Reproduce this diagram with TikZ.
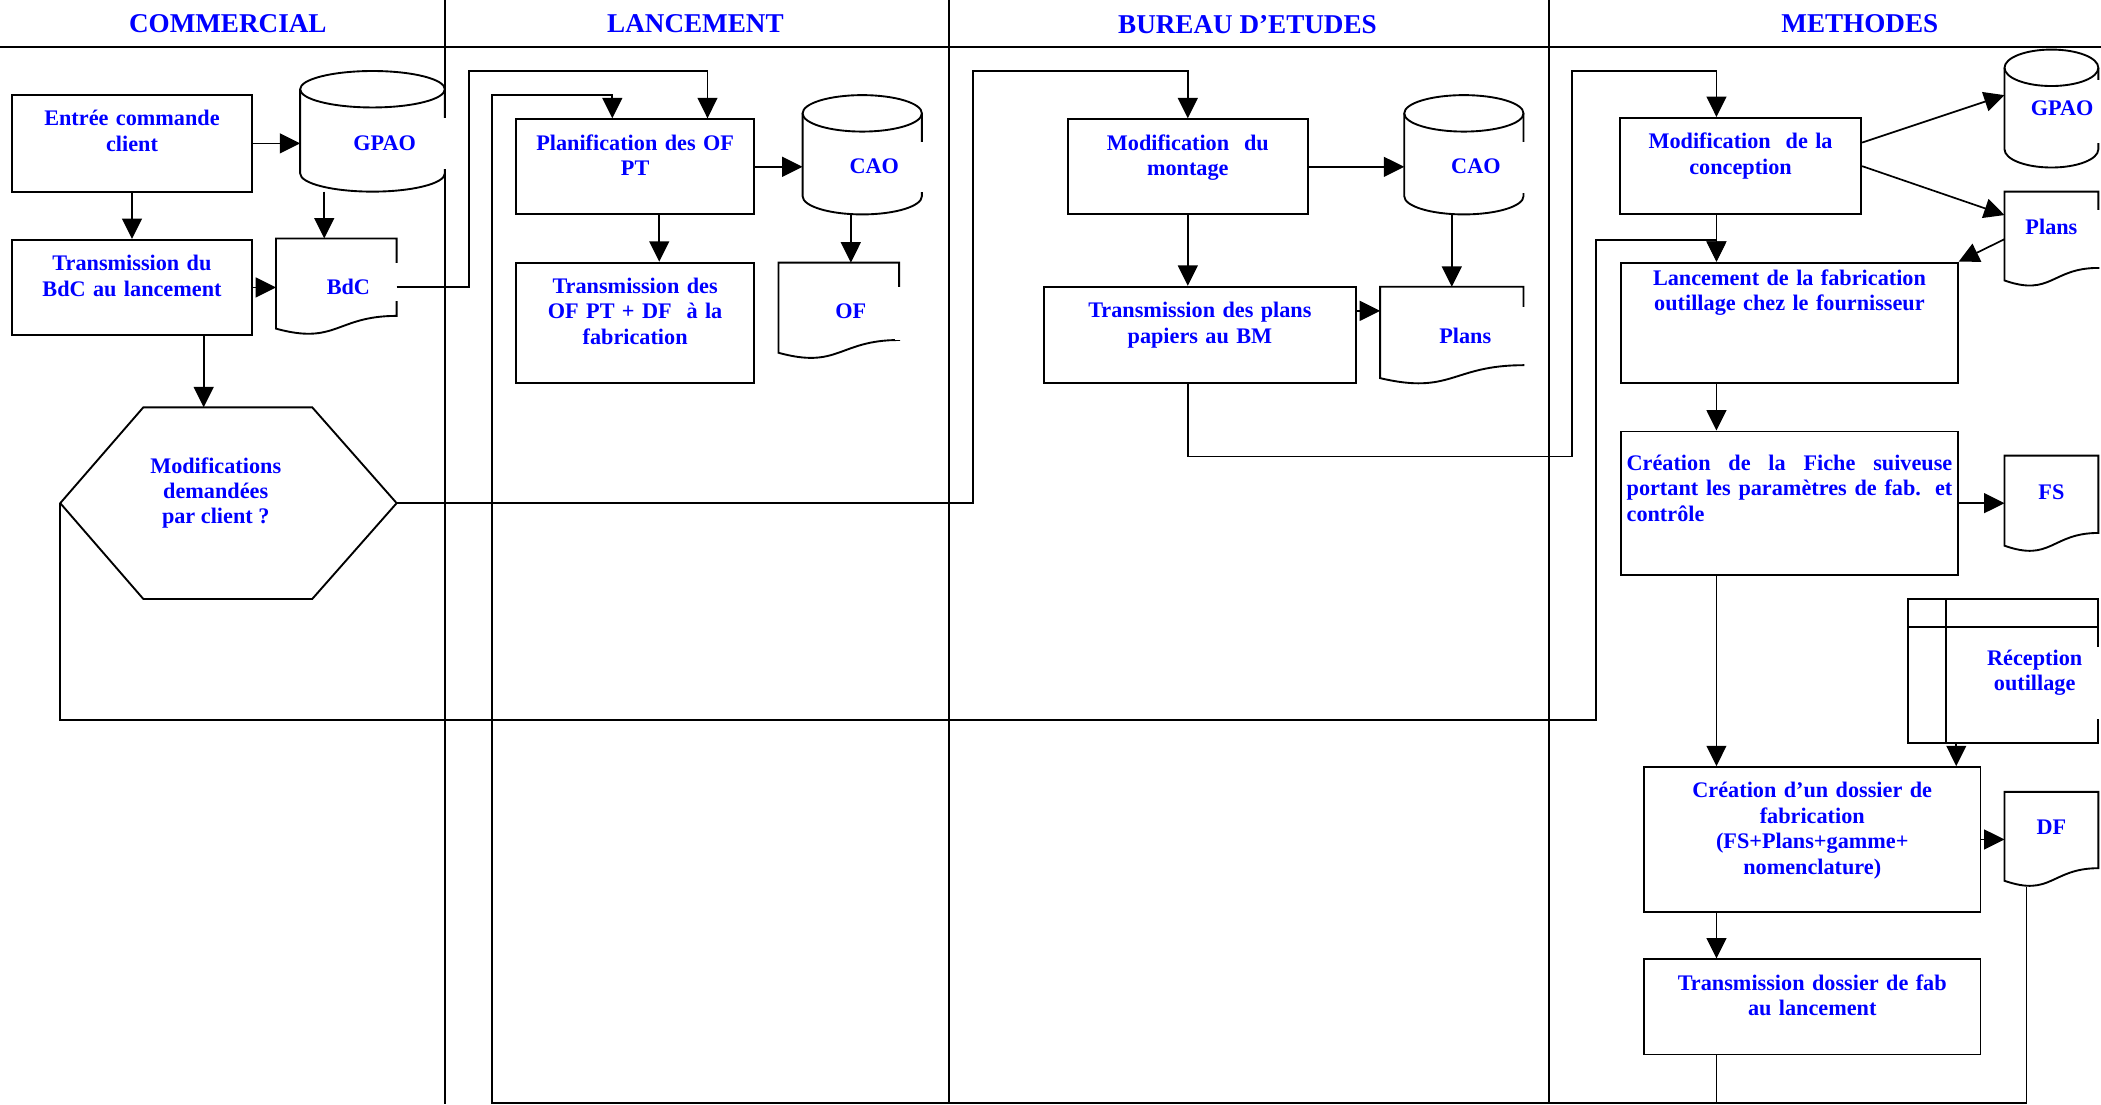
\documentclass[tikz,border=0pt]{standalone}
\usepackage{fontspec}
\setmainfont{Liberation Serif}
\usetikzlibrary{arrows.meta,calc}

\begin{document}
\begin{tikzpicture}[
    x=0.025cm, y=-0.025cm,
    font=\fontsize{11.8}{13.5}\selectfont\bfseries,
    >={Triangle[length=0.38cm, width=0.37cm]},
]

\tikzset{
    lane_title/.style = {font=\fontsize{14.4}{17}\selectfont\bfseries, text=blue, inner sep=0pt},
    box_node/.style 2 args = {rectangle, draw=black, line width=1pt, text=blue, inner xsep=0.1cm, inner ysep=0pt,
                              minimum width=#1, text width=#1-0.2cm, text height=0.575cm, text depth=#2-0.575cm, align=center},
    db_node/.style 2 args = {rectangle, outer sep=0pt, inner sep=0pt, minimum width=#1, minimum height=#2,
                             text=blue, text height=0.7cm, text depth=0cm},
    doc_node/.style 2 args = {rectangle, outer sep=0pt, inner sep=0pt, minimum width=#1, minimum height=#2, text=blue},
    doc_up/.style = {text height=0.275cm, text depth=0.45cm},
    storage_node/.style 2 args = {rectangle, draw=black, line width=1pt, outer sep=0pt, minimum width=#1, minimum height=#2},
    plain_text/.style = {text=blue, inner sep=0pt, align=center},
    shape_line/.style = {draw=black, line width=1pt},
    cover/.style = {fill=white},
    link/.style = {line width=0.9pt},
    arrow/.style = {link, ->},
}

\useasboundingbox (0,0) rectangle (1568,824);

% =========== LANES ===========
\node[lane_title] (t_com) at (170,18) {COMMERCIAL};
\node[lane_title] (t_lan) at (519,18) {LANCEMENT};
\node[lane_title] (t_be) at (931,18) {BUREAU D’ETUDES};
\node[lane_title] (t_met) at (1388,18) {METHODES};

\draw[line width=1pt] (0,35) -- (1568,35);
\foreach \x in {332,708,1156}
    \draw[line width=1pt] (\x,0) -- (\x,824);

% =========== COMMERCIAL ===========
\node[box_node={4.475cm}{1.8cm}] (entree) at (98.5,107) {Entrée commande\\client};
\node[db_node={2.7cm}{2.25cm}] (gpao1) at (278,98) {\hspace*{0.45cm}GPAO};
\node[box_node={4.475cm}{1.775cm}] (trbdc) at (98.5,214.5) {Transmission du\\BdC au lancement};
\node[doc_node={2.25cm}{1.8cm}] (bdc) at (251,214) {\hspace*{0.45cm}BdC};

\node[doc_node={6.275cm}{3.575cm}] (modif) at (170.5,375.5) {};
\node[plain_text] (modif_txt) at (161,368) {Modifications\\demandées\\par client ?};

% =========== LANCEMENT ===========
\node[box_node={4.45cm}{1.775cm}] (planif) at (474,124.5) {Planification des OF\\PT};
\node[db_node={2.225cm}{2.225cm}] (cao1) at (643.5,115.5) {\hspace*{0.45cm}CAO};
\node[box_node={4.45cm}{2.25cm}] (trof) at (474,241) {Transmission des\\OF PT + DF\ \ à la\\fabrication};
\node[doc_node={2.25cm}{1.8cm}] (of) at (626,232) {\hspace*{0.45cm}OF};

% =========== BUREAU D'ETUDES ===========
\node[box_node={4.475cm}{1.775cm}] (montage) at (886.5,124.5) {Modification\ \ du\\montage};
\node[db_node={2.225cm}{2.225cm}] (cao2) at (1092.5,115.5) {\hspace*{0.45cm}CAO};
\node[box_node={5.825cm}{1.8cm}] (trplans) at (895.5,250) {Transmission des plans\\papiers au BM};
\node[doc_node={2.675cm}{1.825cm}] (plans1) at (1083.5,250.5) {\hspace*{0.5cm}Plans};

% =========== METHODES ===========
\coordinate (col) at (1281,0);
\coordinate (merge) at (1281,823);

\node[box_node={4.5cm}{1.8cm}] (concep) at (1299,124) {Modification\ \ de la\\conception};
\node[db_node={1.75cm}{2.2cm}, text height=0.275cm] (gpao2) at (1531,81) {\hspace*{0.4cm}GPAO};
\node[doc_node={1.75cm}{1.775cm}, doc_up] (plans2) at (1531,178.5) {Plans};
\node[box_node={6.275cm}{2.25cm}, text height=0.425cm, text depth=1.825cm] (lancfab) at (1335.5,241)
    {Lancement de la fabrication\\outillage chez le fournisseur};
\node[box_node={6.275cm}{2.675cm}, text height=0.725cm, text depth=1.95cm, align=justify] (fiche) at (1335.5,375.5)
    {Création de la Fiche suiveuse\linebreak portant les paramètres de fab. et\linebreak contrôle};
\node[doc_node={1.75cm}{1.8cm}, doc_up] (fs) at (1531,376) {FS};

\node[storage_node={3.55cm}{2.6875cm}] (recep) at (1495,500.75) {};
\node[plain_text] (recep_txt) at (1518.5,502) {Réception\\outillage};

\node[box_node={6.275cm}{2.7cm}] (dossier) at (1352.5,626.5)
    {Création d’un dossier de\\fabrication\\(FS+Plans+gamme+\\nomenclature)};
\node[doc_node={1.75cm}{1.775cm}, doc_up] (df) at (1531,626.5) {DF};
\node[box_node={6.275cm}{1.775cm}] (trdossier) at (1352.5,751.5) {Transmission dossier de fab\\au lancement};

% =========== SHAPE OUTLINES ===========
% cylinders
\foreach \c/\r in {gpao1/1.35cm, cao1/1.1125cm, cao2/1.1125cm, gpao2/0.875cm} {
    \draw[shape_line] ([yshift=-0.34cm]\c.north west) -- ([yshift=0.34cm]\c.south west)
        arc[start angle=180, end angle=360, x radius=\r, y radius=0.34cm] -- ([yshift=-0.34cm]\c.north east);
    \draw[shape_line] ([yshift=-0.34cm]\c.north) ellipse [x radius=\r, y radius=0.34cm];
}

% documents
\foreach \d in {bdc, of, plans1, plans2, fs, df}
    \draw[shape_line] (\d.north west) -- (\d.north east) -- ($(\d.north east)!0.802!(\d.south east)$)
        .. controls ($(\d.north)!0.802!(\d.south)$) and ($(\d.north)!1.107!(\d.south)$)
        .. ($(\d.north west)!0.934!(\d.south west)$) -- cycle;

% decision
\draw[shape_line] (modif.west) -- ([xshift=1.55cm]modif.north west) -- ([xshift=-1.575cm]modif.north east)
    -- (modif.east) -- ([xshift=-1.575cm]modif.south east) -- ([xshift=1.55cm]modif.south west) -- cycle;

% internal storage
\draw[shape_line] ([xshift=0.7cm]recep.north west) -- ([xshift=0.7cm]recep.south west);
\draw[shape_line] ([yshift=-0.525cm]recep.north west) -- ([yshift=-0.525cm]recep.north east);

% text frames over the right borders
\foreach \s/\t/\b in {gpao1/0.25/-0.7, bdc/0.45/-0.275, cao1/0.2375/-0.6875, of/0.45/-0.55,
                      cao2/0.2375/-0.7125, plans1/0.5375/-0.5375, plans2/0.5375/-0.5125,
                      gpao2/0.525/-0.65, recep/0.45/-0.9}
    \fill[cover] ([xshift=-0.075cm, yshift=\t cm]\s.east) rectangle ([xshift=0.06cm, yshift=\b cm]\s.east);

% =========== CONNECTORS ===========
\draw[arrow] (entree.east) -- (entree.east -| gpao1.west);
\draw[arrow] ([xshift=-0.9cm]gpao1.south) -- ([xshift=-0.9cm]gpao1.south |- bdc.north);
\draw[arrow] (entree.south) -- (trbdc.north);
\draw[arrow] (trbdc.east) -- (trbdc.east -| bdc.west);
\draw[arrow] ([xshift=1.3375cm]trbdc.south) -- ([xshift=1.3375cm]trbdc.south |- modif.north);
\draw[arrow] (bdc.east) -| (350,53) -| ([xshift=1.35cm]planif.north);

\draw[arrow] (planif.east) -- (planif.east -| cao1.west);
\draw[arrow] ([xshift=0.45cm]planif.south) -- ([xshift=0.45cm]planif.south |- trof.north);
\draw[arrow] ([xshift=-0.2125cm]cao1.south) -- ([xshift=-0.2125cm]cao1.south |- of.north);

\draw[arrow] (modif.east) -| (726,53) -| (montage.north);
\draw[arrow] (montage.east) -- (montage.east -| cao2.west);
\draw[arrow] (montage.south) -- (montage.south |- trplans.north);
\draw[arrow] (plans1.north |- cao2.south) -- (plans1.north);
\draw[arrow] ([yshift=0.45cm]trplans.east) -- ([yshift=0.45cm]trplans.east -| plans1.west);
\draw[arrow] (montage.south |- trplans.south) -- ++(0,54) -| (1173,53) -| (col |- concep.north);

\draw[arrow] (modif.west) -- ++(0,162) -| (1191,179) -| (col |- lancfab.north);
\draw[arrow] ([yshift=0.44cm]concep.east) -- ([yshift=0.25cm]gpao2.west);
\draw[arrow] (concep.east) -- ([yshift=0.45cm]plans2.west);
\draw[arrow] (plans2.west) -- (lancfab.north east);
\draw[arrow] (col |- concep.south) -- (col |- lancfab.north);
\draw[arrow] (col |- lancfab.south) -- (col |- fiche.north);
\draw[arrow] (fiche.east) -- (fiche.east -| fs.west);
\draw[arrow] (col |- fiche.south) -- (col |- dossier.north);
\draw[arrow] ([xshift=-0.875cm]recep.south) -- ([xshift=-0.875cm]recep.south |- dossier.north);
\draw[arrow] (dossier.east) -- (dossier.east -| df.west);
\draw[arrow] (col |- dossier.south) -- (col |- trdossier.north);

% back to the lancement
\draw[arrow] (col |- trdossier.south) -- (merge) -| (367,71) -| ([xshift=-0.425cm]planif.north);
\draw[link] ([xshift=-0.4625cm]df.south) |- (merge);

\end{tikzpicture}
\end{document}
